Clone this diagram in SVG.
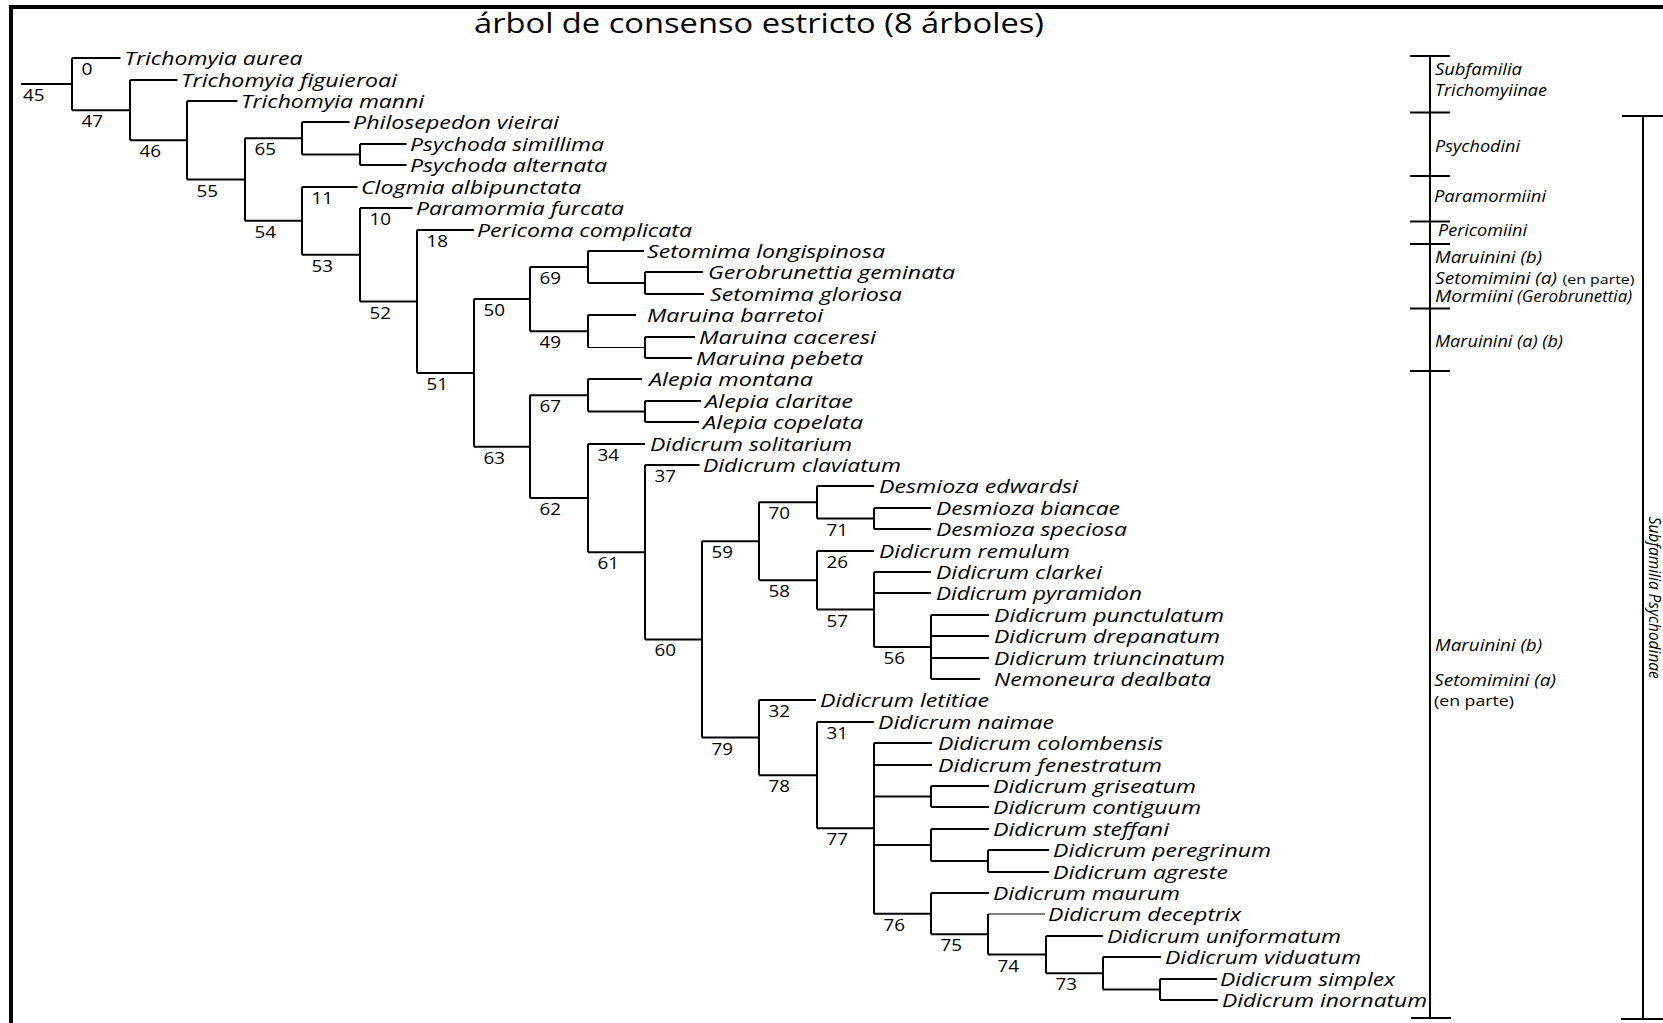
<svg xmlns="http://www.w3.org/2000/svg" width="1663" height="1023" viewBox="0 0 1663 1023">
<style>
text{fill:#000;font-family:"Open Sans","Liberation Sans",sans-serif}
.t{font-style:italic;font-size:18.5px}
.n{font-size:16px}
.g{font-style:italic;font-size:15.5px}
.s{font-size:13.5px}
.c path{fill:none;stroke:#000;stroke-width:2;stroke-linecap:butt}
.c path.thin{stroke-width:1}
.b path{fill:none;stroke:#000;stroke-width:2}
</style>
<rect x="0" y="0" width="1663" height="1023" fill="#fff"/>
<path d="M11,1023 V7 H1663" fill="none" stroke="#000" stroke-width="4" stroke-linejoin="miter"/>
<text id="title" x="474" y="33" font-size="27" textLength="570" lengthAdjust="spacingAndGlyphs">árbol de consenso estricto (8 árboles)</text>

<g class="c" id="connectors">
<path d="M21,84.1 H72"/>
<path d="M72,58 V110.15 M72,58 H120.5 M72,110.15 H130"/>
<path d="M130,80 V140.3 M130,80 H177.5 M130,140.3 H187"/>
<path d="M187,101 V179.55 M187,101 H237.5 M187,179.55 H245"/>
<path d="M245,138.25 V220.85 M245,138.25 H302 M245,220.85 H302"/>
<path d="M302,122 V154.5 M302,122 H349.5 M302,154.5 H360"/>
<path d="M360,144 V165 M360,144 H406.5 M360,165 H406.5"/>
<path d="M302,187 V254.7 M302,187 H357.5 M302,254.7 H360"/>
<path d="M360,208 V301.45 M360,208 H412.5 M360,301.45 H417"/>
<path d="M417,230 V372.9 M417,230 H474 M417,372.9 H474"/>
<path d="M474,299.1 V446.7 M474,299.1 H530 M474,446.7 H530"/>
<path d="M530,267 V331.25 M530,267 H588 M530,331.25 H588"/>
<path d="M588,251 V283 M588,251 H644 M588,283 H645"/>
<path d="M645,272 V294 M645,272 H703 M645,294 H704"/>
<path d="M588,315 V347.5 M588,315 H636"/>
<path class="thin" d="M588,347.5 H645"/>
<path d="M645,337 V358 M645,337 H695 M645,358 H692"/>
<path d="M530,395.25 V498.1 M530,395.25 H588 M530,498.1 H588"/>
<path d="M588,379 V411.5 M588,379 H642 M588,411.5 H645"/>
<path d="M645,401 V422 M645,401 H701 M645,422 H699"/>
<path d="M588,444 V552.2 M588,444 H645 M588,552.2 H645"/>
<path d="M645,465 V639.4 M645,465 H699.5 M645,639.4 H702"/>
<path d="M702,541.25 V737.6 M702,541.25 H759 M702,737.6 H759"/>
<path d="M759,502.25 V580.25 M759,502.25 H817 M759,580.25 H817"/>
<path d="M817,486 V518.5 M817,486 H874 M817,518.5 H874"/>
<path d="M874,508 V529 M874,508 H931 M874,529 H931"/>
<path d="M817,551 V609.5 M817,551 H874 M817,609.5 H874"/>
<path d="M874,572 V647 M874,572 H931 M874,593 H931 M874,647 H931"/>
<path d="M931,615 V679 M931,615 H989 M931,636 H989 M931,658 H989 M931,679 H980"/>
<path d="M759,700 V775.15 M759,700 H816 M759,775.15 H817"/>
<path d="M817,722 V828.3 M817,722 H874 M817,828.3 H874"/>
<path d="M874,743 V913.65 M874,743 H932 M874,765 H932 M874,796.5 H931 M874,845 H931 M874,913.65 H931"/>
<path d="M931,786 V807 M931,786 H989 M931,807 H989"/>
<path d="M931,829 V861 M931,829 H989 M931,861 H988"/>
<path d="M988,850 V872 M988,850 H1049 M988,872 H1049"/>
<path d="M931,893 V934.3 M931,893 H989 M931,934.3 H988"/>
<path d="M988,914 V954.6"/>
<path class="thin" d="M988,914 H1045"/>
<path d="M988,954.6 H1046"/>
<path d="M1046,936 V973.25 M1046,936 H1103 M1046,973.25 H1103"/>
<path d="M1103,957 V989.5 M1103,957 H1161 M1103,989.5 H1160"/>
<path d="M1160,979 V1000 M1160,979 H1217 M1160,1000 H1218"/>
</g>

<g id="taxa">
<g id="tip-01"><text class="t" x="124.5" y="64.5" textLength="178" lengthAdjust="spacingAndGlyphs">Trichomyia aurea</text></g>
<g id="tip-02"><text class="t" x="181" y="86.5" textLength="216" lengthAdjust="spacingAndGlyphs">Trichomyia figuieroai</text></g>
<g id="tip-03"><text class="t" x="241" y="107.5" textLength="183" lengthAdjust="spacingAndGlyphs">Trichomyia manni</text></g>
<g id="tip-04"><text class="t" x="353" y="128.5" textLength="206" lengthAdjust="spacingAndGlyphs">Philosepedon vieirai</text></g>
<g id="tip-05"><text class="t" x="410" y="150.5" textLength="194" lengthAdjust="spacingAndGlyphs">Psychoda simillima</text></g>
<g id="tip-06"><text class="t" x="410" y="171.5" textLength="197" lengthAdjust="spacingAndGlyphs">Psychoda alternata</text></g>
<g id="tip-07"><text class="t" x="361" y="193.5" textLength="220" lengthAdjust="spacingAndGlyphs">Clogmia albipunctata</text></g>
<g id="tip-08"><text class="t" x="416" y="214.5" textLength="208" lengthAdjust="spacingAndGlyphs">Paramormia furcata</text></g>
<g id="tip-09"><text class="t" x="477" y="236.5" textLength="215" lengthAdjust="spacingAndGlyphs">Pericoma complicata</text></g>
<g id="tip-10"><text class="t" x="647" y="257.5" textLength="238" lengthAdjust="spacingAndGlyphs">Setomima longispinosa</text></g>
<g id="tip-11"><text class="t" x="708" y="278.5" textLength="247" lengthAdjust="spacingAndGlyphs">Gerobrunettia geminata</text></g>
<g id="tip-12"><text class="t" x="710" y="300.5" textLength="192" lengthAdjust="spacingAndGlyphs">Setomima gloriosa</text></g>
<g id="tip-13"><text class="t" x="647" y="321.5" textLength="176" lengthAdjust="spacingAndGlyphs">Maruina barretoi</text></g>
<g id="tip-14"><text class="t" x="699" y="343.5" textLength="177" lengthAdjust="spacingAndGlyphs">Maruina caceresi</text></g>
<g id="tip-15"><text class="t" x="696" y="364.5" textLength="167" lengthAdjust="spacingAndGlyphs">Maruina pebeta</text></g>
<g id="tip-16"><text class="t" x="649" y="385.5" textLength="164" lengthAdjust="spacingAndGlyphs">Alepia montana</text></g>
<g id="tip-17"><text class="t" x="705" y="407.5" textLength="148" lengthAdjust="spacingAndGlyphs">Alepia claritae</text></g>
<g id="tip-18"><text class="t" x="703" y="428.5" textLength="160" lengthAdjust="spacingAndGlyphs">Alepia copelata</text></g>
<g id="tip-19"><text class="t" x="650" y="450.5" textLength="202" lengthAdjust="spacingAndGlyphs">Didicrum solitarium</text></g>
<g id="tip-20"><text class="t" x="703" y="471.5" textLength="198" lengthAdjust="spacingAndGlyphs">Didicrum claviatum</text></g>
<g id="tip-21"><text class="t" x="879" y="492.5" textLength="199" lengthAdjust="spacingAndGlyphs">Desmioza edwardsi</text></g>
<g id="tip-22"><text class="t" x="936" y="514.5" textLength="184" lengthAdjust="spacingAndGlyphs">Desmioza biancae</text></g>
<g id="tip-23"><text class="t" x="936" y="535.5" textLength="191" lengthAdjust="spacingAndGlyphs">Desmioza speciosa</text></g>
<g id="tip-24"><text class="t" x="879" y="557.5" textLength="191" lengthAdjust="spacingAndGlyphs">Didicrum remulum</text></g>
<g id="tip-25"><text class="t" x="936" y="578.5" textLength="166" lengthAdjust="spacingAndGlyphs">Didicrum clarkei</text></g>
<g id="tip-26"><text class="t" x="936" y="599.5" textLength="206" lengthAdjust="spacingAndGlyphs">Didicrum pyramidon</text></g>
<g id="tip-27"><text class="t" x="994" y="621.5" textLength="230" lengthAdjust="spacingAndGlyphs">Didicrum punctulatum</text></g>
<g id="tip-28"><text class="t" x="994" y="642.5" textLength="226" lengthAdjust="spacingAndGlyphs">Didicrum drepanatum</text></g>
<g id="tip-29"><text class="t" x="994" y="664.5" textLength="231" lengthAdjust="spacingAndGlyphs">Didicrum triuncinatum</text></g>
<g id="tip-30"><text class="t" x="994" y="685.5" textLength="217" lengthAdjust="spacingAndGlyphs">Nemoneura dealbata</text></g>
<g id="tip-31"><text class="t" x="820" y="706.5" textLength="169" lengthAdjust="spacingAndGlyphs">Didicrum letitiae</text></g>
<g id="tip-32"><text class="t" x="878" y="728.5" textLength="176" lengthAdjust="spacingAndGlyphs">Didicrum naimae</text></g>
<g id="tip-33"><text class="t" x="938" y="749.5" textLength="225" lengthAdjust="spacingAndGlyphs">Didicrum colombensis</text></g>
<g id="tip-34"><text class="t" x="938" y="771.5" textLength="224" lengthAdjust="spacingAndGlyphs">Didicrum fenestratum</text></g>
<g id="tip-35"><text class="t" x="993" y="792.5" textLength="203" lengthAdjust="spacingAndGlyphs">Didicrum griseatum</text></g>
<g id="tip-36"><text class="t" x="993" y="813.5" textLength="208" lengthAdjust="spacingAndGlyphs">Didicrum contiguum</text></g>
<g id="tip-37"><text class="t" x="993" y="835.5" textLength="176" lengthAdjust="spacingAndGlyphs">Didicrum steffani</text></g>
<g id="tip-38"><text class="t" x="1053" y="856.5" textLength="218" lengthAdjust="spacingAndGlyphs">Didicrum peregrinum</text></g>
<g id="tip-39"><text class="t" x="1053" y="878.5" textLength="175" lengthAdjust="spacingAndGlyphs">Didicrum agreste</text></g>
<g id="tip-40"><text class="t" x="993" y="899.5" textLength="187" lengthAdjust="spacingAndGlyphs">Didicrum maurum</text></g>
<g id="tip-41"><text class="t" x="1048" y="920.5" textLength="193" lengthAdjust="spacingAndGlyphs">Didicrum deceptrix</text></g>
<g id="tip-42"><text class="t" x="1107" y="942.5" textLength="234" lengthAdjust="spacingAndGlyphs">Didicrum uniformatum</text></g>
<g id="tip-43"><text class="t" x="1165" y="963.5" textLength="196" lengthAdjust="spacingAndGlyphs">Didicrum viduatum</text></g>
<g id="tip-44"><text class="t" x="1220" y="985.5" textLength="175" lengthAdjust="spacingAndGlyphs">Didicrum simplex</text></g>
<g id="tip-45"><text class="t" x="1222" y="1006.5" textLength="205" lengthAdjust="spacingAndGlyphs">Didicrum inornatum</text></g>
</g>

<g id="node-labels">
<g id="n45"><text class="n" x="23" y="101" textLength="21.5" lengthAdjust="spacingAndGlyphs">45</text></g>
<g id="n0"><text class="n" x="81.5" y="75" textLength="11" lengthAdjust="spacingAndGlyphs">0</text></g>
<g id="n47"><text class="n" x="81.5" y="127" textLength="21.5" lengthAdjust="spacingAndGlyphs">47</text></g>
<g id="n46"><text class="n" x="139.5" y="157.3" textLength="21.5" lengthAdjust="spacingAndGlyphs">46</text></g>
<g id="n55"><text class="n" x="196.5" y="196.5" textLength="21.5" lengthAdjust="spacingAndGlyphs">55</text></g>
<g id="n65"><text class="n" x="254.5" y="155.3" textLength="21.5" lengthAdjust="spacingAndGlyphs">65</text></g>
<g id="n54"><text class="n" x="254.5" y="237.9" textLength="21.5" lengthAdjust="spacingAndGlyphs">54</text></g>
<g id="n11"><text class="n" x="311.5" y="204" textLength="21.5" lengthAdjust="spacingAndGlyphs">11</text></g>
<g id="n53"><text class="n" x="311.5" y="271.7" textLength="21.5" lengthAdjust="spacingAndGlyphs">53</text></g>
<g id="n10"><text class="n" x="369.5" y="225" textLength="21.5" lengthAdjust="spacingAndGlyphs">10</text></g>
<g id="n52"><text class="n" x="369.5" y="318.5" textLength="21.5" lengthAdjust="spacingAndGlyphs">52</text></g>
<g id="n18"><text class="n" x="426.5" y="247" textLength="21.5" lengthAdjust="spacingAndGlyphs">18</text></g>
<g id="n51"><text class="n" x="426.5" y="389.9" textLength="21.5" lengthAdjust="spacingAndGlyphs">51</text></g>
<g id="n50"><text class="n" x="483.5" y="316.1" textLength="21.5" lengthAdjust="spacingAndGlyphs">50</text></g>
<g id="n63"><text class="n" x="483.5" y="463.7" textLength="21.5" lengthAdjust="spacingAndGlyphs">63</text></g>
<g id="n69"><text class="n" x="539.5" y="284" textLength="21.5" lengthAdjust="spacingAndGlyphs">69</text></g>
<g id="n49"><text class="n" x="539.5" y="348.3" textLength="21.5" lengthAdjust="spacingAndGlyphs">49</text></g>
<g id="n67"><text class="n" x="539.5" y="412.3" textLength="21.5" lengthAdjust="spacingAndGlyphs">67</text></g>
<g id="n62"><text class="n" x="539.5" y="515.1" textLength="21.5" lengthAdjust="spacingAndGlyphs">62</text></g>
<g id="n34"><text class="n" x="597.5" y="461" textLength="21.5" lengthAdjust="spacingAndGlyphs">34</text></g>
<g id="n61"><text class="n" x="597.5" y="569.2" textLength="21.5" lengthAdjust="spacingAndGlyphs">61</text></g>
<g id="n37"><text class="n" x="654.5" y="482" textLength="21.5" lengthAdjust="spacingAndGlyphs">37</text></g>
<g id="n60"><text class="n" x="654.5" y="656.4" textLength="21.5" lengthAdjust="spacingAndGlyphs">60</text></g>
<g id="n59"><text class="n" x="711.5" y="558.3" textLength="21.5" lengthAdjust="spacingAndGlyphs">59</text></g>
<g id="n79"><text class="n" x="711.5" y="754.6" textLength="21.5" lengthAdjust="spacingAndGlyphs">79</text></g>
<g id="n70"><text class="n" x="768.5" y="519.3" textLength="21.5" lengthAdjust="spacingAndGlyphs">70</text></g>
<g id="n58"><text class="n" x="768.5" y="597.3" textLength="21.5" lengthAdjust="spacingAndGlyphs">58</text></g>
<g id="n32"><text class="n" x="768.5" y="717" textLength="21.5" lengthAdjust="spacingAndGlyphs">32</text></g>
<g id="n78"><text class="n" x="768.5" y="792.2" textLength="21.5" lengthAdjust="spacingAndGlyphs">78</text></g>
<g id="n71"><text class="n" x="826.5" y="535.5" textLength="21.5" lengthAdjust="spacingAndGlyphs">71</text></g>
<g id="n26"><text class="n" x="826.5" y="568" textLength="21.5" lengthAdjust="spacingAndGlyphs">26</text></g>
<g id="n57"><text class="n" x="826.5" y="626.5" textLength="21.5" lengthAdjust="spacingAndGlyphs">57</text></g>
<g id="n31"><text class="n" x="826.5" y="739" textLength="21.5" lengthAdjust="spacingAndGlyphs">31</text></g>
<g id="n77"><text class="n" x="826.5" y="845.3" textLength="21.5" lengthAdjust="spacingAndGlyphs">77</text></g>
<g id="n56"><text class="n" x="883.5" y="664" textLength="21.5" lengthAdjust="spacingAndGlyphs">56</text></g>
<g id="n76"><text class="n" x="883.5" y="930.7" textLength="21.5" lengthAdjust="spacingAndGlyphs">76</text></g>
<g id="n75"><text class="n" x="940.5" y="951.3" textLength="21.5" lengthAdjust="spacingAndGlyphs">75</text></g>
<g id="n74"><text class="n" x="997.5" y="971.6" textLength="21.5" lengthAdjust="spacingAndGlyphs">74</text></g>
<g id="n73"><text class="n" x="1055.5" y="990.3" textLength="21.5" lengthAdjust="spacingAndGlyphs">73</text></g>
</g>

<g class="b" id="brackets">
<path d="M1430,56 V1018 M1410,56 H1450 M1410,112.5 H1450 M1410,176 H1450 M1410,221.5 H1450 M1410,244 H1450 M1410,308.5 H1450 M1410,371 H1450 M1411,1018 H1451"/>
<path d="M1643,116 V1019 M1622,116 H1663 M1621,1019 H1663"/>
</g>

<g id="group-labels">
<g id="g-trichomyiinae"><text class="g" x="1435" y="75" textLength="87" lengthAdjust="spacingAndGlyphs">Subfamilia</text><text class="g" x="1435" y="96" textLength="112" lengthAdjust="spacingAndGlyphs">Trichomyiinae</text></g>
<g id="g-psychodini"><text class="g" x="1435" y="152" textLength="85" lengthAdjust="spacingAndGlyphs">Psychodini</text></g>
<g id="g-paramormiini"><text class="g" x="1434" y="202" textLength="112" lengthAdjust="spacingAndGlyphs">Paramormiini</text></g>
<g id="g-pericomiini"><text class="g" x="1438" y="235.5" font-size="14" textLength="89" lengthAdjust="spacingAndGlyphs">Pericomiini</text></g>
<g id="g-maruinini-1"><text class="g" x="1435" y="262.5" textLength="107" lengthAdjust="spacingAndGlyphs">Maruinini (b)</text><text class="g" x="1435" y="283.5" textLength="122" lengthAdjust="spacingAndGlyphs">Setomimini (a)</text><text class="s" x="1562.5" y="283.5" textLength="72" lengthAdjust="spacingAndGlyphs">(en parte)</text><text class="g" x="1435" y="302" textLength="78" lengthAdjust="spacingAndGlyphs">Mormiini</text><text class="g" x="1517" y="302" font-size="13" textLength="115" lengthAdjust="spacingAndGlyphs">(Gerobrunettia)</text></g>
<g id="g-maruinini-2"><text class="g" x="1435" y="347" textLength="128" lengthAdjust="spacingAndGlyphs">Maruinini (a) (b)</text></g>
<g id="g-maruinini-3"><text class="g" x="1435" y="651" textLength="107" lengthAdjust="spacingAndGlyphs">Maruinini (b)</text><text class="g" x="1434" y="686" textLength="122" lengthAdjust="spacingAndGlyphs">Setomimini (a)</text><text x="1434" y="706" font-size="15" textLength="80" lengthAdjust="spacingAndGlyphs">(en parte)</text></g>
<g id="g-psychodinae"><text class="g" transform="translate(1649,597.7) rotate(90)" x="0" y="0" text-anchor="middle" font-size="14.5" textLength="162" lengthAdjust="spacingAndGlyphs">Subfamilia Psychodinae</text></g>
</g>
</svg>
